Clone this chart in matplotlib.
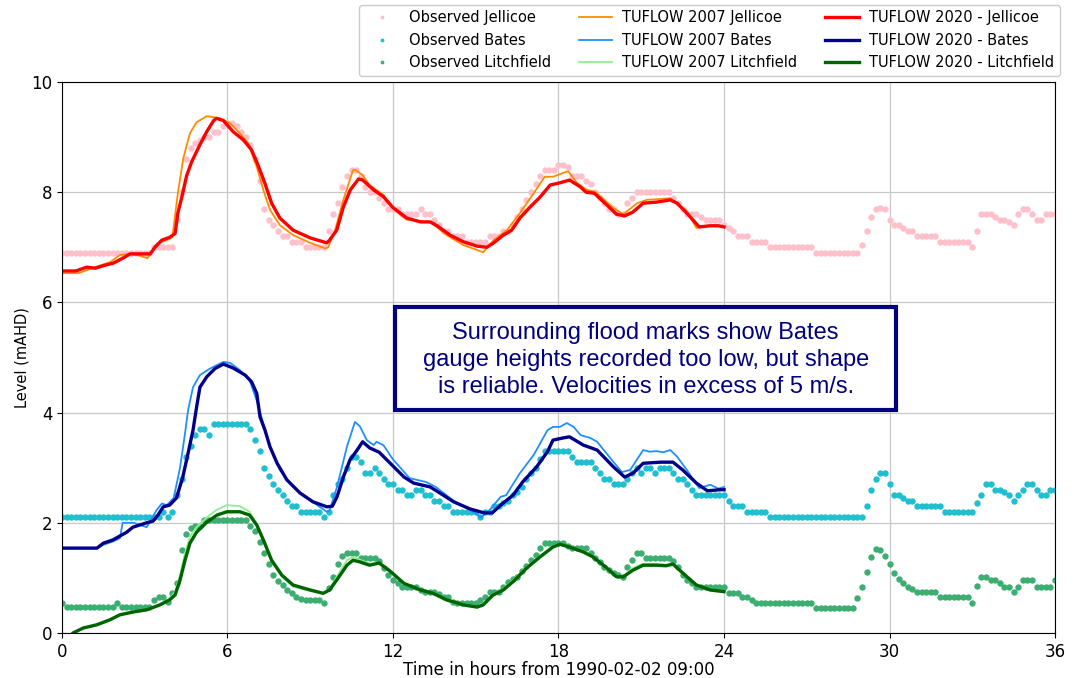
import matplotlib
matplotlib.use("Agg")
import matplotlib.pyplot as plt
import matplotlib.patches as mpatches
import numpy as np

# ── observed gauge levels, every 10 minutes from 0 to 36 h ──────────────────
obs_step_h = 1 / 6

obs_jellicoe = [
    6.9, 6.9, 6.9, 6.9, 6.9, 6.9,
    6.9, 6.9, 6.9, 6.9, 6.9, 6.9,
    6.9, 6.9, 6.9, 6.9, 6.9, 6.9,
    6.9, 6.9, 7.0, 7.0, 7.0, 7.0,
    7.0, 7.5, 8.0, 8.6, 8.8, 8.9,
    8.95, 9.0, 9.0, 9.1, 9.1, 9.2,
    9.25, 9.25, 9.2, 9.1, 9.0, 8.85,
    8.6, 8.2, 7.7, 7.5, 7.4, 7.3,
    7.2, 7.2, 7.1, 7.1, 7.1, 7.0,
    7.0, 7.0, 7.0, 7.0, 7.3, 7.6,
    7.8, 8.1, 8.3, 8.4, 8.4, 8.3,
    8.1, 8.0, 8.0, 7.9, 7.8, 7.7,
    7.7, 7.7, 7.6, 7.6, 7.6, 7.6,
    7.7, 7.6, 7.6, 7.5, 7.4, 7.3,
    7.3, 7.2, 7.2, 7.2, 7.1, 7.1,
    7.1, 7.1, 7.1, 7.2, 7.2, 7.2,
    7.3, 7.3, 7.4, 7.55, 7.7, 7.85,
    8.0, 8.15, 8.3, 8.4, 8.4, 8.4,
    8.5, 8.5, 8.45, 8.3, 8.3, 8.3,
    8.2, 8.15, 8.0, 7.9, 7.8, 7.7,
    7.7, 7.6, 7.6, 7.8, 7.9, 8.0,
    8.0, 8.0, 8.0, 8.0, 8.0, 8.0,
    8.0, 7.9, 7.8, 7.7, 7.6, 7.6,
    7.6, 7.55, 7.5, 7.5, 7.5, 7.5,
    7.4, 7.35, 7.3, 7.2, 7.2, 7.2,
    7.1, 7.1, 7.1, 7.1, 7.0, 7.0,
    7.0, 7.0, 7.0, 7.0, 7.0, 7.0,
    7.0, 7.0, 6.9, 6.9, 6.9, 6.9,
    6.9, 6.9, 6.9, 6.9, 6.9, 6.9,
    7.05, 7.3, 7.55, 7.7, 7.72, 7.7,
    7.5, 7.4, 7.4, 7.35, 7.3, 7.3,
    7.2, 7.2, 7.2, 7.2, 7.2, 7.1,
    7.1, 7.1, 7.1, 7.1, 7.1, 7.1,
    7.0, 7.3, 7.6, 7.6, 7.6, 7.55,
    7.5, 7.5, 7.45, 7.4, 7.6, 7.7,
    7.7, 7.6, 7.5, 7.5, 7.6, 7.6,
    7.6,
]

obs_bates = [
    2.1, 2.1, 2.1, 2.1, 2.1, 2.1,
    2.1, 2.1, 2.1, 2.1, 2.1, 2.1,
    2.1, 2.1, 2.1, 2.1, 2.1, 2.1,
    2.1, 2.1, 2.1, 2.1, 2.2, 2.1,
    2.2, 2.5, 2.8, 3.2, 3.4, 3.6,
    3.7, 3.7, 3.6, 3.8, 3.8, 3.8,
    3.8, 3.8, 3.8, 3.8, 3.8, 3.7,
    3.5, 3.3, 3.0, 2.85, 2.7, 2.6,
    2.5, 2.4, 2.3, 2.3, 2.2, 2.2,
    2.2, 2.2, 2.2, 2.1, 2.2, 2.5,
    2.7, 2.8, 3.0, 3.2, 3.2, 3.1,
    2.9, 2.9, 3.0, 2.9, 2.8, 2.7,
    2.7, 2.6, 2.6, 2.5, 2.5, 2.6,
    2.6, 2.5, 2.5, 2.4, 2.4, 2.3,
    2.3, 2.2, 2.2, 2.2, 2.2, 2.2,
    2.2, 2.1, 2.2, 2.2, 2.3, 2.3,
    2.35, 2.4, 2.5, 2.55, 2.65, 2.8,
    2.9, 3.0, 3.15, 3.3, 3.3, 3.3,
    3.3, 3.3, 3.3, 3.2, 3.1, 3.1,
    3.1, 3.1, 3.0, 2.9, 2.8, 2.8,
    2.7, 2.7, 2.7, 2.8, 2.9, 3.0,
    2.9, 3.0, 3.0, 2.9, 3.0, 3.0,
    3.0, 2.9, 2.8, 2.8, 2.7, 2.6,
    2.5, 2.5, 2.5, 2.5, 2.5, 2.5,
    2.5, 2.4, 2.3, 2.3, 2.3, 2.2,
    2.2, 2.2, 2.2, 2.2, 2.1, 2.1,
    2.1, 2.1, 2.1, 2.1, 2.1, 2.1,
    2.1, 2.1, 2.1, 2.1, 2.1, 2.1,
    2.1, 2.1, 2.1, 2.1, 2.1, 2.1,
    2.1, 2.3, 2.6, 2.8, 2.9, 2.9,
    2.7, 2.5, 2.5, 2.45, 2.4, 2.4,
    2.3, 2.3, 2.3, 2.3, 2.3, 2.3,
    2.2, 2.2, 2.2, 2.2, 2.2, 2.2,
    2.2, 2.35, 2.5, 2.7, 2.7, 2.6,
    2.6, 2.55, 2.5, 2.4, 2.5, 2.6,
    2.7, 2.7, 2.6, 2.5, 2.5, 2.6,
    2.6,
]

obs_litchfield = [
    0.55, 0.47, 0.47, 0.47, 0.47, 0.47,
    0.47, 0.47, 0.47, 0.47, 0.47, 0.47,
    0.55, 0.47, 0.47, 0.47, 0.47, 0.47,
    0.47, 0.47, 0.6, 0.65, 0.65, 0.56,
    0.72, 0.9, 1.5, 1.8, 1.9, 1.95,
    1.95, 2.05, 2.05, 2.05, 2.05, 2.05,
    2.05, 2.05, 2.05, 2.05, 2.05, 1.95,
    1.85, 1.65, 1.45, 1.25, 1.05, 0.95,
    0.87, 0.78, 0.72, 0.66, 0.62, 0.6,
    0.6, 0.6, 0.6, 0.55, 0.82, 1.02,
    1.25, 1.4, 1.45, 1.45, 1.45, 1.36,
    1.36, 1.36, 1.36, 1.3, 1.18, 1.05,
    0.96, 0.9, 0.84, 0.84, 0.84, 0.84,
    0.78, 0.75, 0.75, 0.75, 0.7, 0.66,
    0.66, 0.56, 0.54, 0.54, 0.54, 0.54,
    0.54, 0.6, 0.66, 0.75, 0.75, 0.75,
    0.84, 0.93, 0.98, 1.02, 1.12, 1.22,
    1.32, 1.42, 1.54, 1.63, 1.63, 1.63,
    1.63, 1.63, 1.57, 1.55, 1.54, 1.54,
    1.54, 1.45, 1.36, 1.29, 1.2, 1.14,
    1.08, 1.05, 1.02, 1.2, 1.33, 1.45,
    1.45, 1.36, 1.36, 1.36, 1.36, 1.36,
    1.36, 1.3, 1.2, 1.05, 0.96, 0.9,
    0.84, 0.84, 0.84, 0.84, 0.84, 0.84,
    0.84, 0.72, 0.72, 0.72, 0.66, 0.66,
    0.6, 0.54, 0.54, 0.54, 0.54, 0.54,
    0.54, 0.54, 0.54, 0.54, 0.54, 0.54,
    0.54, 0.54, 0.45, 0.45, 0.45, 0.45,
    0.45, 0.45, 0.45, 0.45, 0.45, 0.64,
    0.84, 1.1, 1.38, 1.52, 1.5, 1.4,
    1.25, 1.08, 0.98, 0.9, 0.84, 0.8,
    0.75, 0.75, 0.75, 0.75, 0.75, 0.66,
    0.66, 0.66, 0.66, 0.66, 0.66, 0.66,
    0.55, 0.85, 1.02, 1.02, 0.96, 0.96,
    0.9, 0.84, 0.84, 0.75, 0.84, 0.96,
    0.96, 0.96, 0.84, 0.84, 0.84, 0.84,
    0.96,
]

# ── modelled levels (time h, level m) ───────────────────────────────────────
t20_jel = [0, 0.5, 0.9, 1.2, 1.6, 1.85, 2.2, 2.47, 2.83, 3.2, 3.37, 3.62, 3.9,
           4.1, 4.2, 4.34, 4.52, 4.7, 5.0, 5.25, 5.5, 5.6, 5.85, 6.2, 6.57,
           6.87, 7.1, 7.35, 7.6, 7.9, 8.38, 9.0, 9.6, 9.7, 9.96, 10.2, 10.45,
           10.75, 10.9, 11.3, 11.65, 12.0, 12.5, 13.0, 13.35, 13.6, 14.07,
           14.55, 15.05, 15.4, 15.65, 16.0, 16.3, 16.6, 16.97, 17.33, 17.7,
           18.05, 18.4, 18.78, 19.0, 19.3, 19.75, 20.1, 20.4, 20.7, 21.07,
           21.57, 22.05, 22.3, 22.65, 23.1, 23.5, 23.8, 24.0]
y20_jel = [6.57, 6.57, 6.64, 6.62, 6.68, 6.71, 6.8, 6.88, 6.88, 6.88, 7.0, 7.13,
           7.18, 7.25, 7.62, 7.9, 8.3, 8.55, 8.86, 9.1, 9.3, 9.34, 9.3, 9.1,
           8.95, 8.77, 8.5, 8.17, 7.8, 7.53, 7.31, 7.17, 7.08, 7.13, 7.31,
           7.73, 8.04, 8.24, 8.22, 8.04, 7.92, 7.72, 7.53, 7.46, 7.46, 7.39,
           7.22, 7.1, 7.02, 7.0, 7.08, 7.22, 7.31, 7.53, 7.73, 7.91, 8.13,
           8.17, 8.22, 8.1, 8.0, 7.98, 7.77, 7.6, 7.57, 7.64, 7.8, 7.82, 7.86,
           7.8, 7.62, 7.37, 7.39, 7.39, 7.37]

t07_jel = [0, 0.6, 1.2, 1.74, 2.1, 2.47, 2.8, 3.1, 3.45, 3.8, 4.0, 4.2, 4.4,
           4.64, 4.88, 5.25, 5.73, 6.1, 6.45, 6.75, 7.06, 7.3, 7.54, 7.9,
           8.38, 9.0, 9.55, 9.65, 9.9, 10.2, 10.55, 10.65, 10.9, 11.15, 11.65,
           12.0, 12.5, 13.35, 13.95, 14.55, 15.27, 15.65, 16.13, 16.6, 17.1,
           17.5, 17.8, 18.17, 18.35, 18.67, 19.0, 19.35, 20.0, 20.35, 20.85,
           21.2, 22.05, 22.65, 23.0, 23.5, 24.0]
y07_jel = [6.53, 6.53, 6.64, 6.73, 6.86, 6.88, 6.85, 6.8, 7.07, 7.13, 7.18,
           7.98, 8.62, 9.07, 9.27, 9.38, 9.34, 9.25, 9.07, 8.89, 8.46, 8.04,
           7.68, 7.4, 7.22, 7.08, 6.98, 7.0, 7.31, 7.86, 8.4, 8.4, 8.31, 8.13,
           7.95, 7.7, 7.5, 7.46, 7.22, 7.04, 6.91, 7.13, 7.31, 7.62, 7.98,
           8.28, 8.28, 8.35, 8.38, 8.17, 8.05, 8.0, 7.71, 7.6, 7.8, 7.86,
           7.89, 7.66, 7.35, 7.4, 7.37]

t20_bat = [0, 1.27, 1.5, 1.85, 2.35, 2.57, 3.07, 3.3, 3.48, 3.67, 3.9, 4.15,
           4.38, 4.57, 4.75, 4.88, 5.0, 5.25, 5.55, 5.85, 6.2, 6.64, 6.87,
           7.06, 7.18, 7.36, 7.54, 7.8, 8.15, 8.63, 9.1, 9.6, 9.8, 9.97, 10.2,
           10.44, 10.7, 10.9, 11.15, 11.5, 11.9, 12.4, 12.75, 13.35, 13.7,
           14.2, 14.8, 15.3, 15.6, 15.9, 16.35, 16.7, 17.2, 17.6, 17.8, 18.17,
           18.4, 18.9, 19.4, 20.0, 20.4, 20.7, 21.07, 21.7, 22.15, 22.5, 23.0,
           23.4, 23.86, 24.0]
y20_bat = [1.54, 1.54, 1.63, 1.69, 1.83, 1.92, 2.0, 2.03, 2.14, 2.29, 2.32,
           2.45, 2.83, 3.26, 3.68, 4.1, 4.46, 4.65, 4.8, 4.88, 4.81, 4.68,
           4.56, 4.35, 3.92, 3.68, 3.38, 3.08, 2.78, 2.54, 2.38, 2.29, 2.3,
           2.47, 2.83, 3.14, 3.32, 3.47, 3.36, 3.28, 3.08, 2.83, 2.72, 2.65,
           2.54, 2.38, 2.25, 2.18, 2.18, 2.32, 2.5, 2.74, 3.01, 3.29, 3.5,
           3.54, 3.56, 3.41, 3.32, 3.01, 2.83, 2.9, 3.08, 3.1, 3.1, 2.96,
           2.72, 2.58, 2.6, 2.6]

t07_bat = [0, 1.27, 1.5, 1.85, 2.1, 2.2, 2.6, 3.07, 3.43, 3.62, 3.8, 4.05,
           4.28, 4.46, 4.57, 4.75, 5.0, 5.37, 5.85, 6.1, 6.45, 6.8, 7.06, 7.3,
           7.54, 7.9, 8.38, 9.0, 9.6, 9.7, 9.97, 10.33, 10.62, 10.8, 11.05,
           11.3, 11.4, 11.65, 12.0, 12.6, 13.2, 13.55, 14.2, 14.9, 15.2, 15.5,
           15.9, 16.1, 16.6, 17.1, 17.6, 17.8, 18.05, 18.3, 18.55, 18.8,
           19.15, 19.4, 20.0, 20.3, 20.6, 21.07, 21.3, 21.55, 21.8, 22.05,
           22.3, 22.65, 23.1, 23.5, 23.8, 24.0]
y07_bat = [1.54, 1.54, 1.6, 1.66, 1.72, 2.0, 2.0, 1.92, 2.23, 2.35, 2.32, 2.45,
           3.0, 3.62, 4.04, 4.46, 4.68, 4.8, 4.92, 4.9, 4.77, 4.59, 4.22,
           3.8, 3.38, 2.96, 2.65, 2.41, 2.2, 2.22, 2.65, 3.38, 3.83, 3.75,
           3.5, 3.41, 3.47, 3.41, 3.15, 2.81, 2.74, 2.65, 2.4, 2.2, 2.1, 2.23,
           2.47, 2.5, 2.9, 3.23, 3.68, 3.74, 3.74, 3.81, 3.74, 3.59, 3.54,
           3.47, 3.1, 2.92, 2.96, 3.32, 3.29, 3.3, 3.28, 3.32, 3.2, 2.96,
           2.63, 2.69, 2.62, 2.65]

t20_lit = [0.3, 0.4, 0.77, 1.27, 1.74, 2.1, 2.57, 3.07, 3.55, 3.9, 4.1, 4.28,
           4.46, 4.64, 4.88, 5.25, 5.62, 5.98, 6.45, 6.8, 7.06, 7.3, 7.6,
           7.97, 8.38, 9.0, 9.47, 9.7, 9.96, 10.33, 10.55, 10.8, 11.15, 11.5,
           11.9, 12.4, 13.0, 13.45, 13.95, 14.55, 15.05, 15.27, 15.63, 16.0,
           16.35, 16.85, 17.33, 17.8, 18.05, 18.4, 18.9, 19.25, 19.75, 20.1,
           20.35, 20.7, 21.07, 21.55, 21.9, 22.15, 22.5, 23.0, 23.5, 24.0]
y20_lit = [-0.05, 0.0, 0.09, 0.15, 0.24, 0.33, 0.38, 0.42, 0.51, 0.6, 0.69,
           0.96, 1.32, 1.63, 1.83, 2.01, 2.14, 2.2, 2.2, 2.14, 1.96, 1.69,
           1.32, 1.05, 0.87, 0.78, 0.72, 0.78, 0.96, 1.23, 1.32, 1.29, 1.23,
           1.27, 1.12, 0.9, 0.78, 0.72, 0.6, 0.51, 0.47, 0.51, 0.69, 0.78,
           0.93, 1.18, 1.38, 1.56, 1.61, 1.56, 1.47, 1.38, 1.18, 1.02, 1.02,
           1.14, 1.23, 1.23, 1.22, 1.25, 1.09, 0.87, 0.78, 0.75]

t07_lit = t20_lit
y07_lit = [-0.05, 0.0, 0.08, 0.14, 0.23, 0.32, 0.37, 0.42, 0.52, 0.62, 0.75,
           1.05, 1.45, 1.75, 1.92, 2.1, 2.24, 2.32, 2.3, 2.2, 1.98, 1.7, 1.3,
           1.02, 0.84, 0.76, 0.72, 0.8, 1.02, 1.32, 1.38, 1.33, 1.26, 1.27,
           1.12, 0.9, 0.78, 0.72, 0.58, 0.5, 0.46, 0.5, 0.7, 0.8, 0.96, 1.2,
           1.4, 1.58, 1.62, 1.57, 1.48, 1.38, 1.16, 1.02, 1.03, 1.18, 1.26,
           1.25, 1.24, 1.25, 1.08, 0.86, 0.77, 0.75]

note = ("Surrounding flood marks show Bates\n"
        "gauge heights recorded too low, but shape\n"
        "is reliable. Velocities in excess of 5 m/s.")

# ── plot ────────────────────────────────────────────────────────────────────
t_obs = np.arange(len(obs_jellicoe)) * obs_step_h

fig = plt.figure(figsize=(10.76, 6.78), dpi=100)
ax = fig.add_axes([0.0576, 0.0664, 0.9229, 0.8127])

obs_kw = dict(linestyle="none", marker="o", markersize=4.6, markeredgewidth=0)
ax.plot(t_obs, obs_jellicoe, color="pink", label="Observed Jellicoe", **obs_kw)
ax.plot(t_obs, obs_bates, color="#1fbfcf", label="Observed Bates", **obs_kw)
ax.plot(t_obs, obs_litchfield, color="#3cae72", label="Observed Litchfield", **obs_kw)

ax.plot(t07_jel, y07_jel, color="darkorange", lw=1.3, label="TUFLOW 2007 Jellicoe")
ax.plot(t07_bat, y07_bat, color="dodgerblue", lw=1.3, label="TUFLOW 2007 Bates")
ax.plot(t07_lit, y07_lit, color="lightgreen", lw=1.3, label="TUFLOW 2007 Litchfield")

ax.plot(t20_jel, y20_jel, color="red", lw=2.4, label="TUFLOW 2020 - Jellicoe")
ax.plot(t20_bat, y20_bat, color="darkblue", lw=2.4, label="TUFLOW 2020 - Bates")
ax.plot(t20_lit, y20_lit, color="darkgreen", lw=2.4, label="TUFLOW 2020 - Litchfield")

ax.set_xlim(0, 36)
ax.set_ylim(0, 10)
ax.set_xticks(range(0, 37, 6))
ax.set_yticks(range(0, 11, 2))
ax.tick_params(labelsize=12)
ax.grid(True, color="#c8c8c8", linewidth=0.9)
ax.set_axisbelow(True)
ax.set_xlabel("Time in hours from 1990-02-02 09:00", fontsize=12, labelpad=0)
ax.set_ylabel("Level (mAHD)", fontsize=10.5)
ax.yaxis.set_label_coords(-0.033, 0.5)

ax.legend(loc="lower right", bbox_to_anchor=(1.005, 1.011), borderaxespad=0,
          ncol=3, fontsize=10.5, markerscale=0.6, handlelength=2.3,
          handletextpad=0.7, columnspacing=1.9, framealpha=1)

# annotation box
box = mpatches.Rectangle((12.07, 4.05), 18.17, 1.87, fc="white", ec="navy",
                         lw=3, zorder=5)
ax.add_patch(box)
ax.text(21.16, 4.95, note, ha="center", va="center", fontsize=17,
        family="Liberation Sans", color="navy", linespacing=1.3, zorder=6)

plt.savefig("out.png", dpi=100)
